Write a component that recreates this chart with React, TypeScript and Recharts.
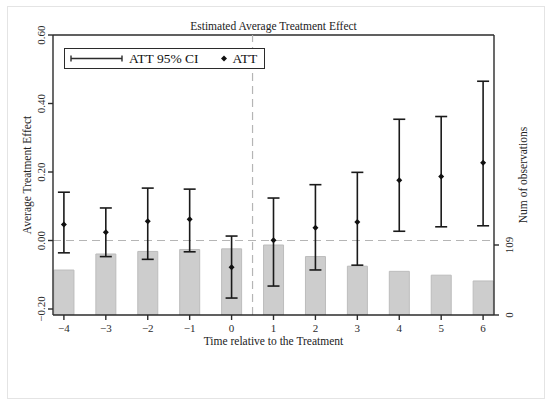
import {
  ComposedChart,
  Bar,
  Scatter,
  ErrorBar,
  XAxis,
  YAxis,
  ReferenceLine,
  Legend,
  Label,
} from "recharts";

// time relative to the treatment
const periods = [-4, -3, -2, -1, 0, 1, 2, 3, 4, 5, 6];
// point estimates and 95% CI bounds
const att = [0.047, 0.024, 0.056, 0.062, -0.078, 0.001, 0.037, 0.054, 0.176, 0.187, 0.227];
const ciLow = [-0.036, -0.047, -0.055, -0.033, -0.168, -0.133, -0.086, -0.072, 0.027, 0.04, 0.043];
const ciHigh = [0.141, 0.095, 0.153, 0.15, 0.013, 0.124, 0.163, 0.199, 0.354, 0.362, 0.465];
// number of observations per period
const nObs = [70, 95, 99, 102, 103, 109, 91, 76, 68, 62, 53];

const leftTicks = [-0.2, 0, 0.2, 0.4, 0.6];
const rightTicks = [0, 109];

const data = periods.map((t, i) => ({
  t,
  att: att[i],
  err: [att[i] - ciLow[i], ciHigh[i] - att[i]],
  n: nObs[i],
}));

const FONT = "'Liberation Serif', 'Times New Roman', serif";
const INK = "#2b2b2b";

const minus = (s: string) => s.replace("-", "\u2212");

function LeftTick({ x, y, payload }: any) {
  return (
    <text
      x={x - 1}
      y={y}
      transform={`rotate(-90 ${x - 1} ${y})`}
      textAnchor="middle"
      fontSize={11}
      fontFamily={FONT}
      fill={INK}
    >
      {minus(Number(payload.value).toFixed(2))}
    </text>
  );
}

function RightTick({ x, y, payload }: any) {
  return (
    <text
      x={x + 12}
      y={y}
      transform={`rotate(-90 ${x + 12} ${y})`}
      textAnchor="middle"
      fontSize={11}
      fontFamily={FONT}
      fill={INK}
    >
      {payload.value}
    </text>
  );
}

function Diamond({ cx, cy }: any) {
  const r = 3;
  return (
    <polygon
      points={`${cx},${cy - r} ${cx + r},${cy} ${cx},${cy + r} ${cx - r},${cy}`}
      fill="#111"
    />
  );
}

function LegendBox() {
  return (
    <div
      style={{
        boxSizing: "border-box",
        width: 201,
        height: 21,
        border: `1px solid ${INK}`,
        background: "#fff",
        display: "flex",
        alignItems: "center",
        fontFamily: FONT,
        fontSize: 13.5,
        color: "#111",
        whiteSpace: "nowrap",
      }}
    >
      <svg width={59} height={19} style={{ marginLeft: 5, flex: "none" }}>
        <line x1={1} x2={52} y1={9.5} y2={9.5} stroke={INK} strokeWidth={1.4} />
        <line x1={1} x2={1} y1={6.5} y2={12.5} stroke={INK} strokeWidth={1.4} />
        <line x1={52} x2={52} y1={6.5} y2={12.5} stroke={INK} strokeWidth={1.4} />
      </svg>
      <span>ATT 95% CI</span>
      <svg width={22} height={19} style={{ marginLeft: 12, flex: "none" }}>
        <polygon points="13,6.5 16,9.5 13,12.5 10,9.5" fill="#111" />
      </svg>
      <span>ATT</span>
    </div>
  );
}

export default function App() {
  return (
    <div style={{ position: "absolute", left: 0, top: 0, width: 550, height: 403, background: "#fff" }}>
      <div
        style={{
          position: "absolute",
          left: 7,
          top: 6,
          width: 536,
          height: 391,
          border: "1px solid #e4e4e4",
        }}
      />
      <div
        style={{
          position: "absolute",
          left: 53,
          width: 441,
          top: 20,
          textAlign: "center",
          fontFamily: FONT,
          fontSize: 11.5,
          color: "#222",
        }}
      >
        Estimated Average Treatment Effect
      </div>
      <ComposedChart
        width={550}
        height={403}
        data={data}
        margin={{ top: 35, right: 0, bottom: 0, left: 0 }}
        style={{ position: "absolute", left: 0, top: 0 }}
      >
        <XAxis
          dataKey="t"
          type="number"
          domain={[-4.26, 6.26]}
          ticks={periods}
          allowDataOverflow
          height={88}
          tickFormatter={(v: number) => minus(String(v))}
          tick={{ fontSize: 11, fontFamily: FONT, fill: INK }}
          tickSize={5}
          tickMargin={4}
          stroke={INK}
          strokeWidth={1.4}
        >
          <Label
            value="Time relative to the Treatment"
            position="insideTop"
            offset={22}
            style={{ fontSize: 11.5, fontFamily: FONT, fill: "#222" }}
          />
        </XAxis>
        <YAxis
          yAxisId="left"
          orientation="left"
          width={53}
          domain={[-0.2175, 0.6]}
          allowDataOverflow
          ticks={leftTicks}
          tick={<LeftTick />}
          tickSize={5}
          stroke={INK}
          strokeWidth={1.4}
        >
          <Label
            value="Average Treatment Effect"
            angle={-90}
            position="insideLeft"
            offset={27}
            style={{ fontSize: 11.5, fontFamily: FONT, fill: "#222", textAnchor: "middle" }}
          />
        </YAxis>
        <YAxis
          yAxisId="right"
          orientation="right"
          width={56}
          domain={[0, 436]}
          allowDataOverflow
          ticks={rightTicks}
          tick={<RightTick />}
          tickSize={5}
          stroke={INK}
          strokeWidth={1.4}
        >
          <Label
            value="Num of observations"
            angle={-90}
            position="insideRight"
            offset={27}
            style={{ fontSize: 11.5, fontFamily: FONT, fill: "#222", textAnchor: "middle" }}
          />
        </YAxis>
        <Legend
          layout="horizontal"
          verticalAlign="middle"
          wrapperStyle={{ left: 64, top: 48, width: 201 }}
          content={() => <LegendBox />}
        />
        <Bar
          yAxisId="right"
          dataKey="n"
          barSize={20}
          fill="#cdcdcd"
          stroke="#bcbcbc"
          strokeWidth={1}
          isAnimationActive={false}
        />
        <ReferenceLine yAxisId="left" y={0.6} stroke={INK} strokeWidth={1.4} />
        <ReferenceLine yAxisId="left" y={0} stroke="#b5b5b5" strokeDasharray="8 5" strokeWidth={1.2} />
        <ReferenceLine yAxisId="left" x={0.5} stroke="#b5b5b5" strokeDasharray="8 5" strokeWidth={1.2} />
        <Scatter yAxisId="left" dataKey="att" shape={<Diamond />} isAnimationActive={false}>
          <ErrorBar dataKey="err" direction="y" width={6} stroke="#1a1a1a" strokeWidth={1.6} isAnimationActive={false} />
        </Scatter>
      </ComposedChart>
    </div>
  );
}
